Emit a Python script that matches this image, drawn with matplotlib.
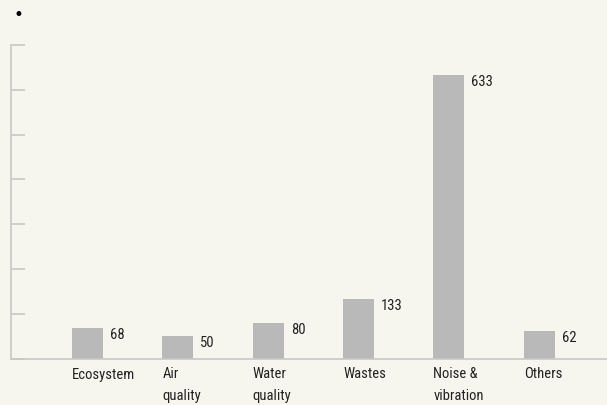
import matplotlib
matplotlib.use("Agg")
import matplotlib.pyplot as plt
from matplotlib.transforms import offset_copy

plt.rcParams['font.family'] = ['Roboto Condensed', 'Roboto', 'DejaVu Sans']

categories = ["Ecosystem", "Air\nquality", "Water\nquality", "Wastes", "Noise &\nvibration", "Others"]
values = [68, 50, 80, 133, 633, 62]
y_ticks = [0, 100, 200, 300, 400, 500, 600, 700]

bg = '#f6f5ee'
bar_color = '#b9b9b9'
axis_color = '#c8c8c8'
text_color = '#222222'

fig = plt.figure(figsize=(6.07, 4.05), dpi=100, facecolor=bg)
ax = fig.add_axes([11/607, 1 - 358.5/405, 1 - 11/607, (358.5 - 44.9)/405])
ax.set_facecolor(bg)

width = 0.343
x = list(range(len(categories)))
bars = ax.bar(x, values, width=width, color=bar_color, zorder=2)

ax.set_xlim(-0.846, 5.75)
ax.set_ylim(0, 700)

for s in ['top', 'right']:
    ax.spines[s].set_visible(False)
for s in ['left', 'bottom']:
    ax.spines[s].set_color(axis_color)
    ax.spines[s].set_linewidth(1.2)

ax.set_yticks(y_ticks)
ax.set_yticklabels([])
ax.tick_params(axis='y', direction='in', length=10, width=1.2, color=axis_color)
ax.set_xticks([])

# value labels to the right of each bar, aligned with the bar top
for xi, v in zip(x, values):
    tr = offset_copy(ax.transData, fig=fig, x=7, y=0, units='dots')
    ax.text(xi + width/2, v, str(v), transform=tr, ha='left', va='top',
            fontsize=10.5, color=text_color)

# category labels, left-aligned under each bar
xt = offset_copy(ax.get_xaxis_transform(), fig=fig, x=0, y=-9, units='dots')
for xi, c in zip(x, categories):
    ax.text(xi - width/2, 0, c, transform=xt, ha='left', va='top',
            fontsize=10.5, color=text_color, linespacing=1.7)

fig.text(18.5/607, 1 - 19.5/405, "\u2022", ha='center', va='baseline',
         fontsize=12, color='black', family='DejaVu Sans')

fig.savefig("out.png", dpi=100, facecolor=bg)
